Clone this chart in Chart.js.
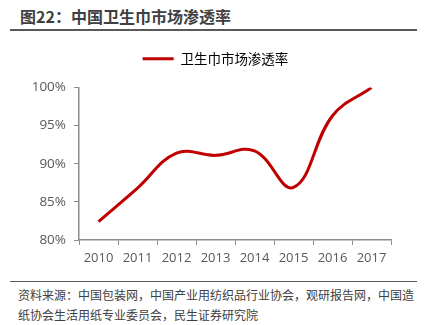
<!DOCTYPE html>
<html>
<head>
<meta charset="utf-8">
<script src="https://cdn.jsdelivr.net/npm/chart.js@4/dist/chart.umd.min.js"></script>
<style>
    html, body { margin: 0; padding: 0; background: #fff; }
    body { width: 427px; height: 325px; position: relative; overflow: hidden;
           font-family: "Noto Sans CJK SC", sans-serif; }
    #title { position: absolute; left: 20px; top: 5px; font-size: 16px; font-weight: bold;
             color: #404040; line-height: 22px; white-space: nowrap; }
    .rule { position: absolute; left: 10px; width: 407px; height: 0; border-top: 2px solid #595959; }
    #rule-top { top: 29px; }
    #rule-bottom { top: 281px; border-top-width: 1.5px; }
    #source { position: absolute; left: 18px; top: 285px; width: 400px; font-size: 12px;
              color: #404040; line-height: 20px; }
    #wrap { position: absolute; left: 0; top: 40px; width: 427px; height: 230px; }
</style>
</head>
<body>
<div id="title">图22：中国卫生巾市场渗透率</div>
<div class="rule" id="rule-top"></div>
<div id="wrap"><canvas id="chart"></canvas></div>
<div class="rule" id="rule-bottom"></div>
<div id="source">资料来源：中国包装网，中国产业用纺织品行业协会，观研报告网，中国造纸协会生活用纸专业委员会，民生证券研究院</div>

<script>
/* Data */
const YEARS = ["2010", "2011", "2012", "2013", "2014", "2015", "2016", "2017"];
const PENETRATION = [82.4, 86.8, 91.4, 91.1, 91.7, 86.9, 96.3, 100.0];
const SERIES_NAME = "卫生巾市场渗透率";
const Y_MIN = 80, Y_MAX = 100, Y_STEP = 5;

const COLORS = {
    line: "#C00000",
    axis: "#8C8C8C",
    text: "#595959",
};

Chart.defaults.font.family = "'Open Sans', 'Noto Sans CJK SC', sans-serif";
Chart.defaults.color = COLORS.text;

/* Push the plot area down a bit below the legend */
const legendGap = {
    id: "legendGap",
    beforeInit(chart) {
        const fit = chart.legend.fit;
        chart.legend.fit = function () {
            fit.bind(chart.legend)();
            this.height += 12;
        };
    },
};

new Chart(document.getElementById("chart"), {
    type: "line",
    data: {
        labels: YEARS,
        datasets: [{
            label: SERIES_NAME,
            data: PENETRATION,
            borderColor: COLORS.line,
            backgroundColor: COLORS.line,
            borderWidth: 3,
            tension: 0.4,
            pointRadius: 0,
            fill: false,
        }],
    },
    plugins: [legendGap],
    options: {
        responsive: true,
        maintainAspectRatio: false,
        animation: false,
        layout: { padding: { left: 4, right: 0, top: 0, bottom: 0 } },
        plugins: {
            tooltip: { enabled: false },
            legend: {
                display: true,
                position: "top",
                labels: {
                    boxWidth: 31,
                    boxHeight: 3,
                    padding: 12,
                    color: COLORS.text,
                    font: { family: "'Noto Sans CJK SC', sans-serif", size: 13.5 },
                    generateLabels: () => [{
                        text: SERIES_NAME,
                        fillStyle: COLORS.line,
                        strokeStyle: COLORS.line,
                        lineWidth: 0,
                        datasetIndex: 0,
                    }],
                },
            },
        },
        scales: {
            x: {
                offset: true,
                grid: { display: true, drawOnChartArea: false, drawTicks: true, tickLength: 5, color: COLORS.axis, offset: true },
                border: { display: true, color: COLORS.axis, width: 1.5 },
                ticks: { font: { size: 13 }, color: COLORS.text, padding: 5, maxRotation: 0 },
                afterFit: (scale) => { scale.height = 30; },
            },
            y: {
                min: Y_MIN,
                max: Y_MAX,
                grid: { display: true, drawOnChartArea: false, drawTicks: true, tickLength: 5, color: COLORS.axis },
                border: { display: true, color: COLORS.axis, width: 1.5 },
                ticks: {
                    stepSize: Y_STEP,
                    font: { size: 13.5 },
                    color: COLORS.text,
                    padding: 8,
                    callback: (v) => v + "%",
                },
                afterFit: (scale) => { scale.width = 75; },
            },
            /* empty right-hand scale, only reserves the space right of the plot */
            yRight: {
                position: "right",
                display: true,
                grid: { display: false },
                border: { display: false },
                ticks: { display: false },
                afterFit: (scale) => { scale.width = 36; },
            },
        },
    },
});
</script>
</body>
</html>
